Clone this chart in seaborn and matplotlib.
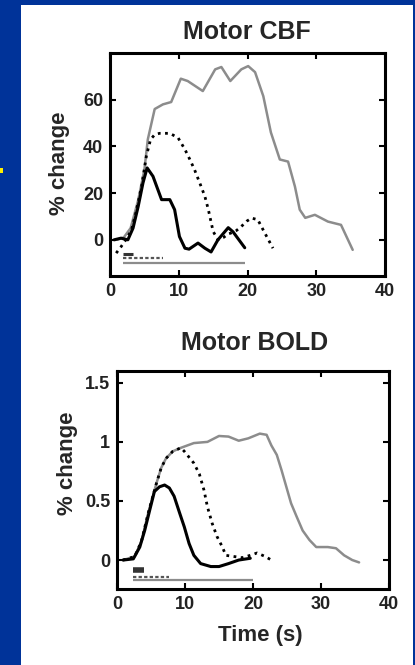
import matplotlib
matplotlib.use("Agg")
import matplotlib.pyplot as plt
import seaborn as sns
import pandas as pd
from matplotlib.patches import Rectangle

# --- Motor CBF (% change) ---
cbf_long_t = [1.0, 2.0, 3.0, 4.1, 5.0, 5.5, 6.5, 7.7, 8.9, 10.3, 11.3, 13.5, 15.3, 16.2,
              17.5, 19.1, 20.1, 21.1, 22.3, 23.4, 24.7, 25.9, 26.9, 27.6, 28.4, 29.8,
              31.7, 33.6, 35.3]
cbf_long_v = [0.0, 1.0, 5.0, 17.0, 30.0, 43.0, 56.0, 58.0, 59.0, 69.0, 68.0, 63.7, 73.0, 74.0,
              68.0, 73.0, 74.4, 71.8, 61.5, 46.0, 34.4, 33.5, 22.8, 12.9, 9.4, 10.7,
              7.8, 6.4, -4.3]

cbf_mid_t = [0.9, 1.6, 2.3, 3.1, 3.8, 4.6, 5.3, 5.9, 6.5, 7.2, 8.0, 8.7, 9.9, 10.9,
             11.6, 12.3, 13.1, 13.8, 14.3, 15.0, 15.7, 16.5, 17.2, 17.7, 18.4, 19.1, 19.9, 20.6,
             21.5, 22.5, 23.7]
cbf_mid_v = [-5.7, -3.0, 0.0, 4.0, 12.0, 23.0, 36.0, 43.0, 45.0, 45.6, 45.6, 45.6, 43.7,
             38.7, 34.5, 30.0, 24.0, 18.6, 13.0, 3.6, 0.0, 1.0, 2.5, 3.0, 4.0, 5.7, 8.0, 9.3,
             8.6, 3.0, -3.6]

cbf_short_t = [0.6, 1.6, 2.6, 3.35, 4.1, 4.8, 5.4, 6.25, 7.5, 8.7, 9.4, 10.1, 10.9, 11.5,
               12.8, 13.8, 14.7, 15.7, 17.2, 17.9, 19.6]
cbf_short_v = [0.0, 0.7, 0.0, 5.0, 14.3, 24.4, 30.8, 27.2, 17.2, 17.2, 12.9, 1.4, -3.6, -4.0,
               -1.4, -3.6, -5.2, 0.0, 5.2, 3.4, -3.4]

# stimulus periods (start, end) and the level at which each is marked
cbf_stim_short = ([1.9, 3.3], -6.0)
cbf_stim_mid = ([1.9, 7.7], -7.8)
cbf_stim_long = ([1.9, 19.6], -10.0)

# --- Motor BOLD (% change) ---
bold_long_t = [0.9, 2.6, 3.6, 4.6, 5.8, 6.5, 7.2, 8.2, 9.4, 11.3, 13.3, 15.0, 16.4, 17.9,
               19.3, 21.0, 22.0, 22.7, 23.5, 24.2, 24.9, 25.6, 26.4, 27.3, 28.3, 29.3,
               31.0, 32.2, 33.4, 34.6, 35.6]
bold_long_v = [0.0, 0.03, 0.16, 0.4, 0.65, 0.78, 0.86, 0.92, 0.95, 0.99, 1.0, 1.05, 1.045, 1.01,
               1.03, 1.07, 1.06, 0.97, 0.89, 0.76, 0.62, 0.48, 0.37, 0.25, 0.17, 0.11,
               0.11, 0.1, 0.04, 0.0, -0.02]

bold_mid_t = [0.9, 2.6, 3.6, 4.6, 5.8, 6.5, 7.2, 8.2, 9.4, 9.9, 11.3, 12.1, 12.8, 13.3, 14.0,
              14.7, 15.5, 16.0, 17.2, 18.4, 19.6, 20.6, 21.8, 23.0]
bold_mid_v = [0.0, 0.03, 0.16, 0.4, 0.65, 0.78, 0.86, 0.92, 0.95, 0.92, 0.82, 0.73, 0.59, 0.45,
              0.31, 0.2, 0.11, 0.04, 0.03, 0.02, 0.04, 0.06, 0.03, -0.01]

bold_short_t = [0.9, 2.4, 3.35, 4.07, 4.8, 5.5, 6.25, 7.0, 7.7, 8.4, 9.2, 9.9, 10.6, 11.3,
                12.3, 13.8, 15.0, 16.4, 17.9, 19.6]
bold_short_v = [0.0, 0.01, 0.11, 0.25, 0.42, 0.58, 0.62, 0.635, 0.61, 0.54, 0.4, 0.28, 0.14,
                0.04, -0.03, -0.055, -0.055, -0.03, 0.0, 0.015]

bold_stim_short = ([2.3, 4.0], -0.085)
bold_stim_mid = ([2.3, 7.7], -0.14)
bold_stim_long = ([2.3, 20.0], -0.165)

x_ticks = [0, 10, 20, 30, 40]
cbf_yticks = [0, 20, 40, 60]
bold_yticks = [0, 0.5, 1, 1.5]
bold_ytick_labels = ["0", "0.5", "1", "1.5"]

sns.set_style("ticks")
plt.rcParams["font.family"] = ["Liberation Sans", "DejaVu Sans"]

GRAY = "#8c8c8c"
BLUE = "#003399"

fig = plt.figure(figsize=(4.15, 6.65), dpi=100)
fig.patch.set_facecolor(BLUE)
W, H = 415.0, 665.0
fig.add_artist(Rectangle((21 / W, 0), (413 - 21) / W, (665 - 5) / H,
                         transform=fig.transFigure, facecolor="white", edgecolor="none",
                         zorder=0))
fig.add_artist(Rectangle((0, 1 - 173 / H), 3 / W, 5 / H, transform=fig.transFigure,
                         facecolor="#ffee00", edgecolor="none", zorder=1))

ax1 = fig.add_axes([110 / W, 1 - 276 / H, 275 / W, 223 / H])
ax2 = fig.add_axes([117 / W, 1 - 589 / H, 272 / W, 218 / H])


def draw_curves(ax, long_t, long_v, mid_t, mid_v, short_t, short_v):
    sns.lineplot(data=pd.DataFrame({"t": long_t, "v": long_v}), x="t", y="v", ax=ax,
                 color=GRAY, lw=1.8, sort=False)
    sns.lineplot(data=pd.DataFrame({"t": mid_t, "v": mid_v}), x="t", y="v", ax=ax,
                 color="black", lw=2.0, sort=False, linestyle=(0, (1, 1.6)))
    sns.lineplot(data=pd.DataFrame({"t": short_t, "v": short_v}), x="t", y="v", ax=ax,
                 color="black", lw=2.2, sort=False)


def draw_stim(ax, short, mid, long, short_lw):
    ax.plot(long[0], [long[1]] * 2, color=GRAY, lw=1.6, solid_capstyle="butt")
    ax.plot(mid[0], [mid[1]] * 2, color="#555555", lw=1.6, linestyle=(0, (1.5, 1)))
    ax.plot(short[0], [short[1]] * 2, color="#333333", lw=short_lw, solid_capstyle="butt")


def style(ax, ylim, yticks, ylabels):
    ax.set_xlim(0, 40)
    ax.set_ylim(*ylim)
    ax.set_xticks(x_ticks)
    ax.set_yticks(yticks)
    ax.set_yticklabels(ylabels)
    ax.set_xlabel("")
    ax.set_ylabel("")
    ax.tick_params(direction="in", length=4, width=1.5, top=True, right=True,
                   labelsize=13, pad=5, colors="black")
    for lab in ax.get_xticklabels() + ax.get_yticklabels():
        lab.set_fontweight("bold")
        lab.set_color("#222222")
    for s in ax.spines.values():
        s.set_visible(True)
        s.set_linewidth(2.2)
        s.set_color("black")
    ax.set_facecolor("white")


draw_curves(ax1, cbf_long_t, cbf_long_v, cbf_mid_t, cbf_mid_v, cbf_short_t, cbf_short_v)
draw_stim(ax1, cbf_stim_short, cbf_stim_mid, cbf_stim_long, 2.2)
style(ax1, (-15.5, 80), cbf_yticks, [str(v) for v in cbf_yticks])

draw_curves(ax2, bold_long_t, bold_long_v, bold_mid_t, bold_mid_v, bold_short_t, bold_short_v)
draw_stim(ax2, bold_stim_short, bold_stim_mid, bold_stim_long, 4.0)
style(ax2, (-0.245, 1.6), bold_yticks, bold_ytick_labels)

# titles and axis labels
fig.text(247 / W, 1 - 32 / H, "Motor CBF", ha="center", va="center",
         fontsize=18, fontweight="bold")
fig.text(255 / W, 1 - 343 / H, "Motor BOLD", ha="center", va="center",
         fontsize=18, fontweight="bold")
fig.text(60 / W, 1 - 163 / H, "% change", ha="center", va="center", rotation=90,
         fontsize=16, fontweight="bold")
fig.text(67 / W, 1 - 463 / H, "% change", ha="center", va="center", rotation=90,
         fontsize=16, fontweight="bold")
fig.text(260 / W, 1 - 635 / H, "Time (s)", ha="center", va="center",
         fontsize=16, fontweight="bold")

fig.savefig("out.png", dpi=100, facecolor=fig.get_facecolor())
